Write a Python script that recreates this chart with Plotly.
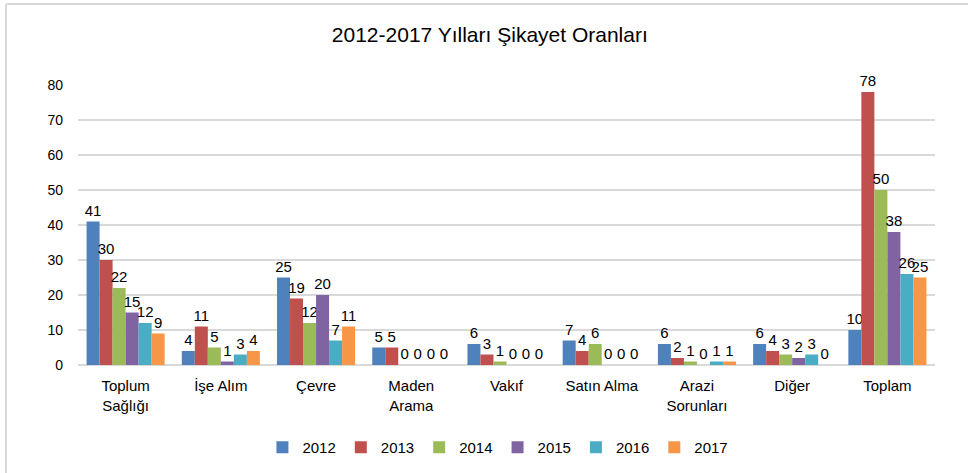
import plotly.graph_objects as go

categories = ["Toplum<br>Sağlığı", "İşe Alım", "Çevre", "Maden<br>Arama", "Vakıf",
              "Satın Alma", "Arazi<br>Sorunları", "Diğer", "Toplam"]
years = ["2012", "2013", "2014", "2015", "2016", "2017"]
v2012 = [41, 4, 25, 5, 6, 7, 6, 6, 10]
v2013 = [30, 11, 19, 5, 3, 4, 2, 4, 78]
v2014 = [22, 5, 12, 0, 1, 6, 1, 3, 50]
v2015 = [15, 1, 20, 0, 0, 0, 0, 2, 38]
v2016 = [12, 3, 7, 0, 0, 0, 1, 3, 26]
v2017 = [9, 4, 11, 0, 0, 0, 1, 0, 25]
series = [v2012, v2013, v2014, v2015, v2016, v2017]
colors = ["#4F81BD", "#C0504D", "#9BBB59", "#8064A2", "#4BACC6", "#F79646"]

FONT = "Liberation Sans, Arial, sans-serif"

fig = go.Figure()
for name, vals, col in zip(years, series, colors):
    fig.add_trace(go.Bar(
        name=name, x=categories, y=vals,
        marker=dict(color=col, line=dict(width=0)),
        text=[str(v) for v in vals], textposition="outside",
        textfont=dict(family=FONT, size=15, color="#000000"),
        constraintext="none",
        cliponaxis=False,
    ))

fig.update_layout(
    width=968, height=473,
    paper_bgcolor="white", plot_bgcolor="white",
    margin=dict(l=78, r=33, t=85, b=108, autoexpand=False),
    title=dict(text="2012-2017 Yılları Şikayet Oranları", x=0.506, xanchor="center",
               y=0.926, yanchor="middle",
               font=dict(family=FONT, size=21, color="#000000")),
    barmode="group", bargap=0.18, bargroupgap=0,
    font=dict(family=FONT, size=14, color="#000000"),
    legend=dict(orientation="h", x=0.49, xanchor="center", y=-0.295, yanchor="middle",
                font=dict(family=FONT, size=15, color="#000000"),
                itemwidth=30, tracegroupgap=0),
    xaxis=dict(showgrid=False, showline=False, ticks="", ticklabelstandoff=10,
               tickfont=dict(family=FONT, size=15, color="#000000")),
    yaxis=dict(range=[0, 80], dtick=10, showgrid=True, gridcolor="#D9D9D9", gridwidth=1.5,
               zeroline=True, zerolinecolor="#D9D9D9", zerolinewidth=1.5,
               showline=False, ticks="", ticklabelstandoff=14,
               tickfont=dict(family=FONT, size=14, color="#000000")),
    shapes=[
        dict(type="line", xref="paper", yref="paper", x0=-0.084, x1=1.05, y0=1.289, y1=1.289,
             line=dict(color="#D9D9D9", width=2)),
        dict(type="line", xref="paper", yref="paper", x0=-0.084, x1=-0.084, y0=1.289, y1=-0.4,
             line=dict(color="#D9D9D9", width=2)),
    ],
)

fig.write_html("out.html", config={"displayModeBar": False},
               post_script="document.body.style.margin='0';document.body.style.overflow='hidden';")
